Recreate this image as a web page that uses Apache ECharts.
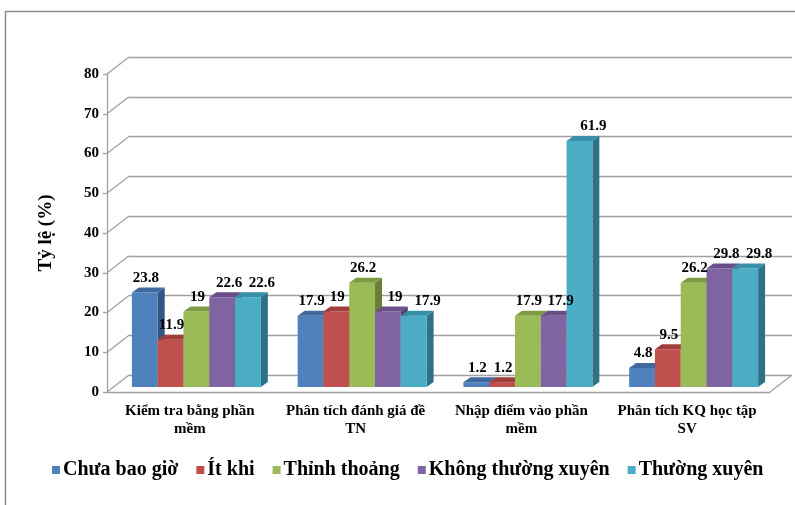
<!DOCTYPE html>
<html>
<head>
<meta charset="utf-8">
<script src="https://cdn.jsdelivr.net/npm/echarts@6/dist/echarts.min.js"></script>
<style>
  html, body { margin: 0; padding: 0; background: #fff; }
  #chart { width: 795px; height: 505px; }
</style>
</head>
<body>
<div id="chart"></div>
<script>
// dữ liệu
var categories = ['Kiểm tra bằng phần\nmềm', 'Phân tích đánh giá đề\nTN', 'Nhập điểm vào phần\nmềm', 'Phân tích KQ học tập\nSV'];
var chuaBaoGio = [23.8, 17.9, 1.2, 4.8];
var itKhi = [11.9, 19, 1.2, 9.5];
var thinhThoang = [19, 26.2, 17.9, 26.2];
var khongThuongXuyen = [22.6, 19, 17.9, 29.8];
var thuongXuyen = [22.6, 17.9, 61.9, 29.8];
var seriesNames = ['Chưa bao giờ', 'Ít khi', 'Thỉnh thoảng', 'Không thường xuyên', 'Thường xuyên'];
var yTicks = [0, 10, 20, 30, 40, 50, 60, 70, 80];

var allSeries = [chuaBaoGio, itKhi, thinhThoang, khongThuongXuyen, thuongXuyen];
var colors = ['#4F81BD', '#C0504D', '#9BBB59', '#8064A2', '#4BACC6'];
var topColors = ['#3F6AA0', '#A03E3B', '#7F9C45', '#684F88', '#3890A8'];
var sideColors = ['#335784', '#83312F', '#677F37', '#54406F', '#2E7285'];
// nhãn của cột sau bị đẩy sang phải (như Excel)
var labelShift = [0, 0, 0, 6, 13];
var FONT = 'Liberation Serif';
var GRID_COLOR = '#a0a0a0';
// độ sâu giả 3D
var WALL_DX = 22, WALL_DY = 17;
var BAR_DX = 7, BAR_DY = 5;

var chart = echarts.init(document.getElementById('chart'));

function barRenderer(idx) {
  return function (params, api) {
    var cat = api.value(0);
    var val = api.value(1);
    var base = api.coord([cat, 0]);
    var top = api.coord([cat, val]);
    var band = api.size([1, 0])[0];
    var groupW = band * 0.778;
    var bw = groupW / 5;
    var x0 = base[0] - groupW / 2 + idx * bw;
    var x1 = x0 + bw;
    var yt = top[1], yb = base[1];
    return {
      type: 'group',
      children: [
        {
          type: 'polygon',
          shape: { points: [[x1, yt], [x1 + BAR_DX, yt - BAR_DY], [x1 + BAR_DX, yb - BAR_DY], [x1, yb]] },
          style: { fill: sideColors[idx] }
        },
        {
          type: 'rect',
          shape: { x: x0, y: yt, width: bw, height: yb - yt },
          style: { fill: colors[idx] }
        },
        {
          type: 'polygon',
          shape: { points: [[x0, yt], [x1, yt], [x1 + BAR_DX, yt - BAR_DY], [x0 + BAR_DX, yt - BAR_DY]] },
          style: { fill: topColors[idx] }
        },
        {
          type: 'text',
          x: x0 + bw / 2 + 1 + labelShift[idx],
          y: yt - BAR_DY - 2,
          z2: 10,
          style: {
            text: String(val),
            fill: '#000',
            font: 'bold 15px ' + FONT,
            textAlign: 'center',
            textVerticalAlign: 'bottom'
          }
        }
      ]
    };
  };
}

var series = [];
// đường chéo nối trục trước với tường sau
series.push({
  type: 'custom',
  xAxisIndex: 0,
  yAxisIndex: 0,
  silent: true,
  data: yTicks.map(function (v) { return [0, v]; }),
  renderItem: function (params, api) {
    var cs = params.coordSys;
    var y = api.coord([0, api.value(1)])[1];
    var children = [{
      type: 'line',
      shape: { x1: cs.x, y1: y, x2: cs.x + WALL_DX, y2: y - WALL_DY },
      style: { stroke: GRID_COLOR, lineWidth: 1.3 }
    }];
    if (api.value(1) === 0) {
      children.push({
        type: 'line',
        shape: { x1: cs.x + cs.width, y1: y, x2: cs.x + cs.width + WALL_DX, y2: y - WALL_DY },
        style: { stroke: GRID_COLOR, lineWidth: 1.3 }
      });
    }
    return { type: 'group', children: children };
  }
});

allSeries.forEach(function (arr, i) {
  series.push({
    name: seriesNames[i],
    type: 'custom',
    xAxisIndex: 2,
    yAxisIndex: 2,
    itemStyle: { color: colors[i] },
    data: arr.map(function (v, j) { return [j, v]; }),
    renderItem: barRenderer(i)
  });
});

chart.setOption({
  animation: false,
  graphic: [{
    type: 'rect',
    shape: { x: 5.5, y: 11.5, width: 820, height: 520 },
    style: { fill: 'none', stroke: '#8c8c8c', lineWidth: 1.5 },
    z: -10
  }],
  legend: {
    left: 47,
    top: 455,
    itemWidth: 8,
    itemHeight: 8,
    itemGap: 18,
    icon: 'rect',
    textStyle: { fontFamily: FONT, fontWeight: 'bold', fontSize: 20, color: '#000', padding: [0, 0, 0, -2] },
    data: seriesNames
  },
  grid: [
    // mặt trước (trục)
    { left: 107, right: 25, top: 74, bottom: 113 },
    // tường sau
    { left: 129, right: 3, top: 57, bottom: 130 },
    // mặt trước của cột
    { left: 113.5, right: 18.5, top: 69, bottom: 118 }
  ],
  xAxis: [
    {
      gridIndex: 0,
      type: 'category',
      data: categories,
      axisLine: { lineStyle: { color: GRID_COLOR, width: 1.3 } },
      axisTick: { length: 5, lineStyle: { color: GRID_COLOR, width: 1.3 } },
      axisLabel: {
        color: '#000',
        fontFamily: FONT,
        fontWeight: 'bold',
        fontSize: 15,
        lineHeight: 18,
        margin: 10,
        interval: 0
      }
    },
    { gridIndex: 1, type: 'category', data: categories, show: false },
    { gridIndex: 2, type: 'category', data: categories, show: false }
  ],
  yAxis: [
    {
      gridIndex: 0,
      type: 'value',
      min: 0,
      max: 80,
      interval: 10,
      name: 'Tỷ lệ (%)',
      nameLocation: 'middle',
      nameGap: 51,
      nameRotate: 90,
      nameTextStyle: { color: '#000', fontFamily: FONT, fontWeight: 'bold', fontSize: 19 },
      axisLine: { show: true, lineStyle: { color: GRID_COLOR, width: 1.3 } },
      axisTick: { show: true, length: 4, lineStyle: { color: GRID_COLOR, width: 1.3 } },
      axisLabel: { color: '#000', fontFamily: FONT, fontWeight: 'bold', fontSize: 15, margin: 8 },
      splitLine: { show: false }
    },
    {
      gridIndex: 1,
      type: 'value',
      min: 0,
      max: 80,
      interval: 10,
      axisLine: { show: false },
      axisTick: { show: false },
      axisLabel: { show: false },
      splitLine: { lineStyle: { color: GRID_COLOR, width: 1.3 } }
    },
    {
      gridIndex: 2,
      type: 'value',
      min: 0,
      max: 80,
      interval: 10,
      show: false,
      splitLine: { show: false }
    }
  ],
  series: series
});
</script>
</body>
</html>
